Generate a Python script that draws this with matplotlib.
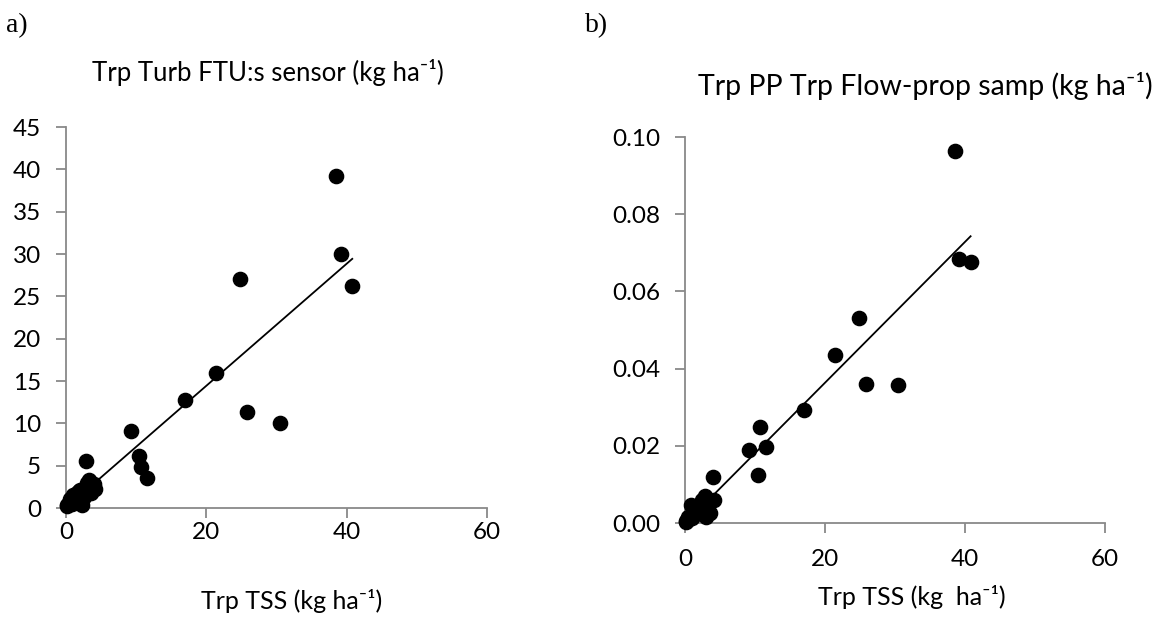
import numpy as np
import matplotlib.pyplot as plt

plt.rcParams['font.family'] = ['Lato', 'DejaVu Sans']

# TSS transport, common x for both panels (kg ha-1)
tss = [0.1, 0.2, 0.4, 0.6, 0.8, 1.0, 1.3, 1.5, 1.8, 2.0, 2.3, 2.5, 2.8, 3.0,
       3.3, 3.6, 4.0, 4.2, 9.2, 10.4, 10.7, 11.6, 17.0, 21.4, 24.8, 25.8,
       30.5, 38.5, 39.2, 40.8]
# a) turbidity sensor based transport
turb = [0.2, 0.4, 0.6, 1.1, 0.5, 1.5, 1.1, 1.8, 2.0, 2.1, 0.4, 1.3, 5.6, 2.9,
        3.3, 1.8, 2.8, 2.3, 9.1, 6.1, 4.9, 3.5, 12.8, 16.0, 27.1, 11.3,
        10.0, 39.2, 30.0, 26.2]
# b) PP flow-proportional sampling transport
pp = [0.0003, 0.0005, 0.0016, 0.0010, 0.0047, 0.0012, 0.0020, 0.0030, 0.0025, 0.0045,
      0.0035, 0.0060, 0.0070, 0.0016, 0.0050, 0.0025, 0.0120, 0.0060, 0.0190, 0.0125,
      0.0250, 0.0197, 0.0293, 0.0435, 0.0530, 0.0360, 0.0358, 0.0963, 0.0684, 0.0676]

GREY = '#898989'
TICK_FS = 17.5
LABEL_FS = 18
SUP = '\u207b\u00b9'


def style_axes(ax, xpad):
    for s in ['top', 'right']:
        ax.spines[s].set_visible(False)
    for s in ['left', 'bottom']:
        ax.spines[s].set_color(GREY)
        ax.spines[s].set_linewidth(1.3)
    ax.tick_params(direction='out', length=7, width=1.3, color=GREY,
                   labelsize=TICK_FS)
    ax.tick_params(axis='y', pad=11)
    ax.tick_params(axis='x', pad=xpad)


def draw_panel(ax, x, y):
    x = np.asarray(x)
    y = np.asarray(y)
    ax.scatter(x, y, s=105, color='black', zorder=3, clip_on=False)
    k, b = np.polyfit(x, y, 1)
    xs = np.array([x.min(), x.max()])
    ax.plot(xs, k * xs + b, color='black', lw=1.3, zorder=4)


fig = plt.figure(figsize=(11.6, 6.19), dpi=100)

ax1 = fig.add_axes([0.0569, 0.1793, 0.3629, 0.6155])
draw_panel(ax1, tss, turb)
ax1.set_xlim(0, 60)
ax1.set_ylim(0, 45)
ax1.set_xticks([0, 20, 40, 60])
ax1.set_yticks(range(0, 50, 5))
style_axes(ax1, 3)

ax2 = fig.add_axes([0.5905, 0.155, 0.3621, 0.6236])
draw_panel(ax2, tss, pp)
ax2.set_xlim(0, 60)
ax2.set_ylim(0, 0.10)
ax2.set_xticks([0, 20, 40, 60])
ax2.set_yticks(np.arange(0, 0.101, 0.02))
ax2.yaxis.set_major_formatter(plt.FormatStrFormatter('%.2f'))
style_axes(ax2, 12)

fig.text(292 / 1160, 1 - 601 / 619, 'Trp TSS (kg ha' + SUP + ')', fontsize=LABEL_FS,
         ha='center', va='center')
fig.text(912 / 1160, 1 - 597 / 619, 'Trp TSS (kg  ha' + SUP + ')', fontsize=LABEL_FS,
         ha='center', va='center')
fig.text(92 / 1160, 1 - 73 / 619, 'Trp Turb FTU:s sensor (kg ha' + SUP + ')',
         fontsize=18.5, va='center', ha='left')
fig.text(698 / 1160, 1 - 86 / 619, 'Trp PP Trp Flow-prop samp (kg ha' + SUP + ')',
         fontsize=20.5, va='center', ha='left')
fig.text(6 / 1160, 1 - 26 / 619, 'a)', fontsize=20, family='Liberation Serif', va='center')
fig.text(585 / 1160, 1 - 26 / 619, 'b)', fontsize=20, family='Liberation Serif', va='center')

fig.savefig('out.png', dpi=100)
